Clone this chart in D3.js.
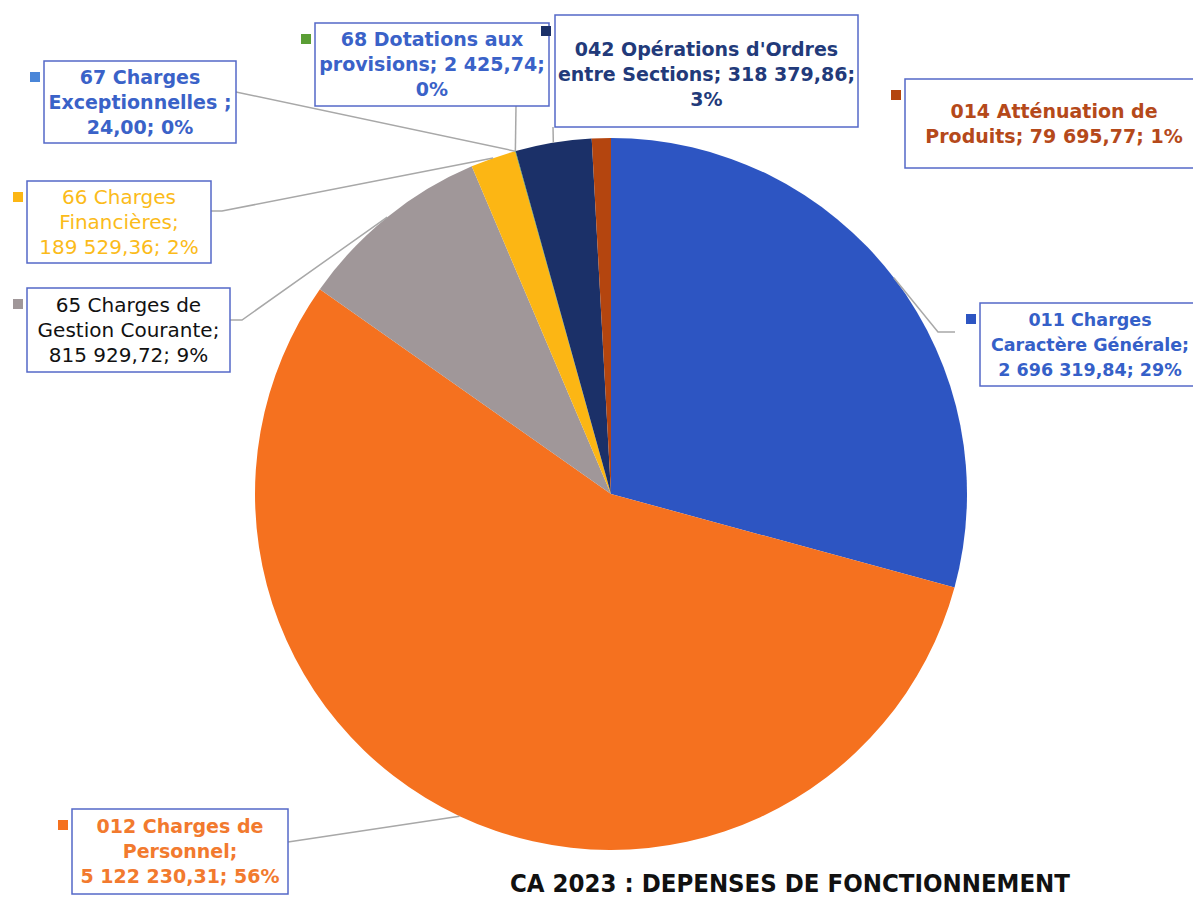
<!DOCTYPE html>
<html lang="fr">
<head>
<meta charset="utf-8">
<title>CA 2023 : Dépenses de fonctionnement</title>
<script src="https://cdn.jsdelivr.net/npm/d3@7"></script>
<style>
  html, body { margin: 0; padding: 0; background: #fff; }
  svg { display: block; font-family: "DejaVu Sans", sans-serif; }
</style>
</head>
<body>
<div id="chart"></div>
<script>
// chart data, in pie order (clockwise from 12 o'clock)
var categories = ["011 Charges|Caractère Générale", "012 Charges de|Personnel",
                  "65 Charges de|Gestion Courante", "66 Charges|Financières",
                  "67 Charges|Exceptionnelles", "68 Dotations aux|provisions",
                  "042 Opérations d'Ordres|entre Sections", "014 Atténuation de|Produits"];
var values = [2696319.84, 5122230.31, 815929.72, 189529.36, 24.00, 2425.74, 318379.86, 79695.77];
// how name / value / percent are arranged on each label
var patterns = ["{n};|{v}; {p}", "{n};|{v}; {p}", "{n};|{v}; {p}", "{n};|{v}; {p}",
                "{n} ;|{v}; {p}", "{n}; {v};|{p}", "{n}; {v};|{p}", "{n}; {v}; {p}"];
var title = "CA 2023 : DEPENSES DE FONCTIONNEMENT";

var sliceColors = ["#2d55c2", "#f5711f", "#a09799", "#fcb614", "#4a86d8", "#5a9e35", "#1b3068", "#b4450f"];
var textColors  = ["#3560c8", "#f27a2e", "#111111", "#fbbb1a", "#3a62c8", "#3a62c8", "#223a7a", "#b5491a"];
var boldText    = [true, true, false, false, true, true, true, true];
var fontSizes   = [17.5, 19, 20, 20, 19, 19, 19, 19];

// label boxes: x, y, w, h and leader elbow points (box side)
var boxes = [
  {x: 980, y: 303, w: 226, h: 83, cx: 1090, path: [[938, 332], [955, 332]]},
  {x: 72,  y: 809, w: 216, h: 85, path: [[288, 842]]},
  {x: 27,  y: 288, w: 203, h: 84, path: [[242, 320], [230, 320]]},
  {x: 27,  y: 181, w: 184, h: 82, path: [[222, 211], [211, 211]]},
  {x: 44,  y: 61,  w: 192, h: 82, path: [[236, 92]]},
  {x: 315, y: 23,  w: 234, h: 83, path: [[516, 106]]},
  {x: 555, y: 15,  w: 303, h: 112, path: [[553, 127]]},
  {x: 905, y: 79,  w: 300, h: 89, cx: 1054, path: null}
];

var width = 1193, height = 897;
var cx = 611, cy = 494, radius = 356;

var total = d3.sum(values);
var fr = d3.formatLocale({decimal: ",", thousands: " ", grouping: [3], currency: ["", " €"]});
var fmt = fr.format(",.2f");

var svg = d3.select("#chart").append("svg")
  .attr("width", width).attr("height", height)
  .attr("viewBox", [0, 0, width, height]);

var pie = d3.pie().sort(null).value(d => d)(values);
var arc = d3.arc().innerRadius(0).outerRadius(radius);
var edge = d3.arc().innerRadius(radius).outerRadius(radius);

var g = svg.append("g").attr("transform", `translate(${cx},${cy})`);
g.selectAll("path")
  .data(pie)
  .enter().append("path")
    .attr("d", arc)
    .attr("fill", (d, i) => sliceColors[i]);

// leader lines
svg.append("g")
  .attr("fill", "none")
  .attr("stroke", "#a8a8a8")
  .attr("stroke-width", 1.5)
  .selectAll("path")
  .data(pie.filter((d, i) => boxes[i].path))
  .enter().append("path")
    .attr("d", d => {
      var i = d.index, c = edge.centroid(d);
      return d3.line()([[cx + c[0], cy + c[1]]].concat(boxes[i].path));
    });

// labels
var labels = svg.append("g").selectAll("g")
  .data(pie)
  .enter().append("g");

labels.append("rect")
  .attr("x", d => boxes[d.index].x)
  .attr("y", d => boxes[d.index].y)
  .attr("width", d => boxes[d.index].w)
  .attr("height", d => boxes[d.index].h)
  .attr("fill", "#fff")
  .attr("stroke", "#5468c8")
  .attr("stroke-width", 1.5);

labels.append("rect")
  .attr("x", d => boxes[d.index].x - 14)
  .attr("y", d => boxes[d.index].y + 11)
  .attr("width", 10).attr("height", 10)
  .attr("fill", d => sliceColors[d.index]);

labels.each(function(d) {
  var i = d.index, b = boxes[i];
  var pct = Math.round(values[i] / total * 100) + "%";
  var txt = patterns[i].replace("{n}", categories[i]).replace("{v}", fmt(values[i])).replace("{p}", pct);
  var lines = txt.split("|");
  var lh = 25;
  var y0 = b.y + b.h / 2 - (lines.length - 1) * lh / 2 + (i == 6 ? 3 : 0);
  var tx = b.cx || (b.x + b.w / 2);
  var t = d3.select(this).append("text")
    .attr("text-anchor", "middle")
    .attr("fill", textColors[i])
    .attr("font-size", fontSizes[i])
    .attr("font-weight", boldText[i] ? "bold" : "normal");
  lines.forEach((s, k) => {
    t.append("tspan")
      .attr("x", tx)
      .attr("y", y0 + k * lh)
      .attr("dy", "0.35em")
      .text(s);
  });
});

svg.append("text")
  .attr("x", 510).attr("y", 892)
  .attr("font-size", 25)
  .attr("font-weight", "bold")
  .attr("fill", "#111")
  .attr("textLength", 560)
  .attr("lengthAdjust", "spacingAndGlyphs")
  .text(title);
</script>
</body>
</html>
